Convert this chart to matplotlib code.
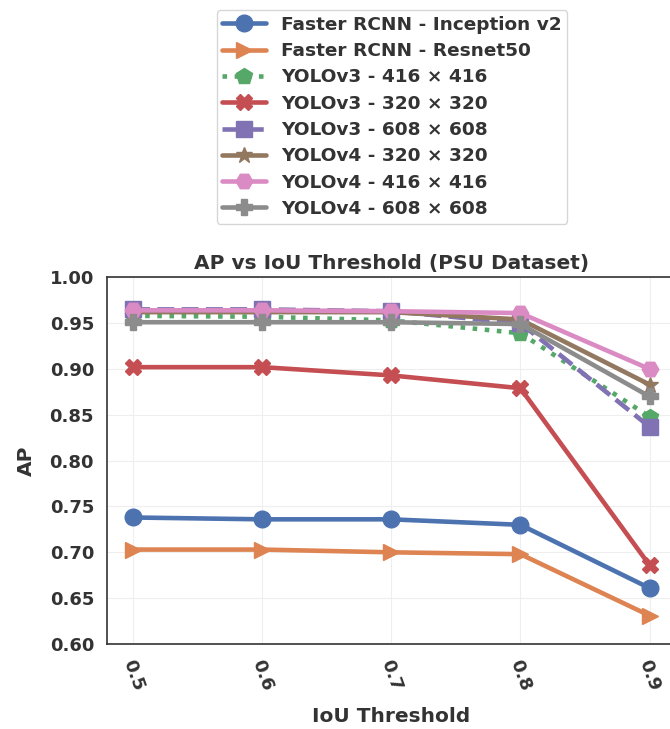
import matplotlib
matplotlib.use("Agg")
import matplotlib.pyplot as plt
import seaborn as sns

sns.set_theme(style="whitegrid", palette="deep")
plt.rcParams['font.family'] = ['DejaVu Sans']
plt.rcParams['font.weight'] = 'bold'

iou = [0.5, 0.6, 0.7, 0.8, 0.9]
labels = ["Faster RCNN - Inception v2", "Faster RCNN - Resnet50",
          "YOLOv3 - 416 × 416", "YOLOv3 - 320 × 320", "YOLOv3 - 608 × 608",
          "YOLOv4 - 320 × 320", "YOLOv4 - 416 × 416", "YOLOv4 - 608 × 608"]
frcnn_inception = [0.738, 0.736, 0.736, 0.730, 0.661]
frcnn_resnet = [0.703, 0.703, 0.700, 0.698, 0.631]
yolov3_416 = [0.958, 0.957, 0.953, 0.939, 0.848]
yolov3_320 = [0.902, 0.902, 0.893, 0.879, 0.686]
yolov3_608 = [0.965, 0.965, 0.963, 0.950, 0.837]
yolov4_320 = [0.962, 0.962, 0.962, 0.954, 0.883]
yolov4_416 = [0.964, 0.964, 0.963, 0.961, 0.900]
yolov4_608 = [0.951, 0.951, 0.951, 0.949, 0.870]
series = [frcnn_inception, frcnn_resnet, yolov3_416, yolov3_320, yolov3_608,
          yolov4_320, yolov4_416, yolov4_608]
markers = ['o', '>', 'p', 'X', 's', '*', 'H', 'P']
styles = ['-', '-', ':', '-', '--', '-', '-', '-']
colors = sns.color_palette("deep")
cidx = [0, 1, 2, 3, 4, 5, 6, 7]

fig = plt.figure(figsize=(6.7, 7.29), dpi=100)
ax = fig.add_axes([0.160, 0.1166, 0.848, 0.503])
for s, lab, m, ls, ci in zip(series, labels, markers, styles, cidx):
    ax.plot(iou, s, linestyle=ls, marker=m, color=colors[ci], lw=3.3,
            markersize=12, label=lab)

ax.set_ylim(0.6, 1.0)
ax.set_xticks(iou)
ax.set_xticklabels([str(v) for v in iou], rotation=-70, fontsize=13,
                   fontweight='bold', color='#333333')
ax.tick_params(axis='y', labelsize=13, labelcolor='#333333')
for t in ax.get_yticklabels():
    t.set_fontweight('bold')
ax.set_title("AP vs IoU Threshold (PSU Dataset)", fontsize=14.5, fontweight='bold',
             color='#333333')
ax.set_xlabel("IoU Threshold", fontsize=14.5, fontweight='bold', color='#333333',
              labelpad=10)
ax.set_ylabel("AP", fontsize=14.5, fontweight='bold', color='#333333', labelpad=10)
ax.grid(True, color='#eeeeee', lw=0.8)
for sp in ax.spines.values():
    sp.set_color('#333333')
    sp.set_linewidth(1.2)

handles, labs = ax.get_legend_handles_labels()
leg = fig.legend(handles, labs, loc='upper center', bbox_to_anchor=(392 / 670, 1 - 1 / 729),
                 prop={'size': 13.3, 'weight': 'bold'}, labelspacing=0.45,
                 borderpad=0.3, handlelength=2.4, frameon=True)
for t in leg.get_texts():
    t.set_color('#333333')

fig.savefig("out.png", dpi=100)
